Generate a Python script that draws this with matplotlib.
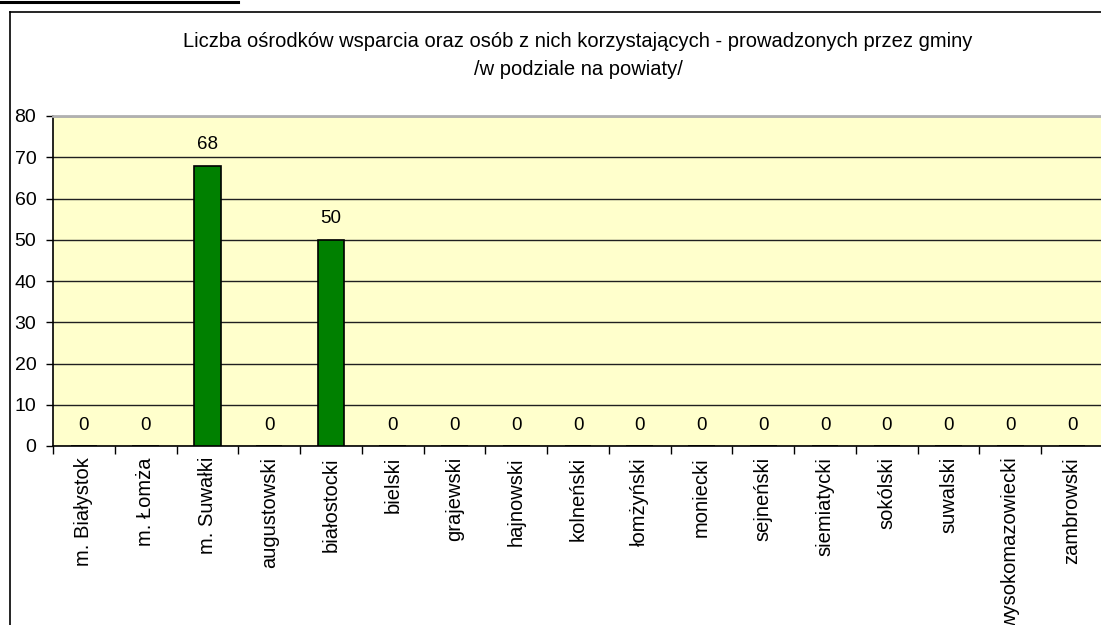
import numpy as np
import matplotlib
matplotlib.use('Agg')
import matplotlib.pyplot as plt
from matplotlib.lines import Line2D

plt.rcParams['font.family'] = ['Liberation Sans', 'DejaVu Sans']

# dane
powiaty = ['m. Białystok', 'm. Łomża', 'm. Suwałki', 'augustowski', 'białostocki',
           'bielski', 'grajewski', 'hajnowski', 'kolneński', 'łomżyński',
           'moniecki', 'sejneński', 'siemiatycki', 'sokólski', 'suwalski',
           'wysokomazowiecki', 'zambrowski']
wartosci = [0, 0, 68, 0, 50, 0, 0, 0, 0, 0, 0, 0, 0, 0, 0, 0, 0]
tytul = 'Liczba ośrodków wsparcia oraz osób z nich korzystających - prowadzonych przez gminy\n/w podziale na powiaty/'

W, H = 1101, 625
fig = plt.figure(figsize=(W / 100, H / 100), dpi=100)

# ramka wykresu i obcięty podkreślony napis u góry
fig.add_artist(Line2D([10 / W, 10 / W], [0, 1 - 12 / H], color='black', lw=1.2))
fig.add_artist(Line2D([10 / W, 1], [1 - 12 / H, 1 - 12 / H], color='black', lw=1.2))
fig.add_artist(Line2D([0, 238 / W], [1 - 1.5 / H, 1 - 1.5 / H], color='black', lw=2.2))

x0, x1 = 53, 1103
ytop, ybot = 116, 446
ax = fig.add_axes([x0 / W, 1 - ybot / H, (x1 - x0) / W, (ybot - ytop) / H])
ax.set_facecolor('#ffffcc')

x = np.arange(len(powiaty))
ax.bar(x, wartosci, width=0.43, color='#008000', edgecolor='black', linewidth=1.2, zorder=3)

for xi, v in zip(x, wartosci):
    ax.annotate(str(v), (xi, v), xytext=(0, 15), textcoords='offset points',
                ha='center', va='center', fontsize=13.5)

ax.set_xlim(-0.5, len(powiaty) - 0.5)
ax.set_ylim(0, 80)
ax.set_yticks(range(0, 81, 10))
ax.tick_params(axis='y', labelsize=14, length=5, width=1, direction='out', pad=7)
ax.yaxis.grid(True, color='#202020', linewidth=1)
ax.set_axisbelow(True)

ax.set_xticks(x)
ax.set_xticklabels(powiaty, rotation=90, fontsize=14.5, va='top')
ax.tick_params(axis='x', length=0, pad=8)
ax.set_xticks(np.arange(-0.5, len(powiaty), 1), minor=True)
ax.tick_params(axis='x', which='minor', length=6, width=1, direction='out')

for s in ['top', 'right']:
    ax.spines[s].set_color('#b0b0b0')
    ax.spines[s].set_linewidth(2)
ax.spines['right'].set_visible(False)
ax.spines['left'].set_linewidth(1.2)
ax.spines['bottom'].set_linewidth(1.2)

fig.text(578 / W, 1 - 55.5 / H, tytul, ha='center', va='center', fontsize=14.5, linespacing=1.6)

fig.savefig('out.png', dpi=100)
